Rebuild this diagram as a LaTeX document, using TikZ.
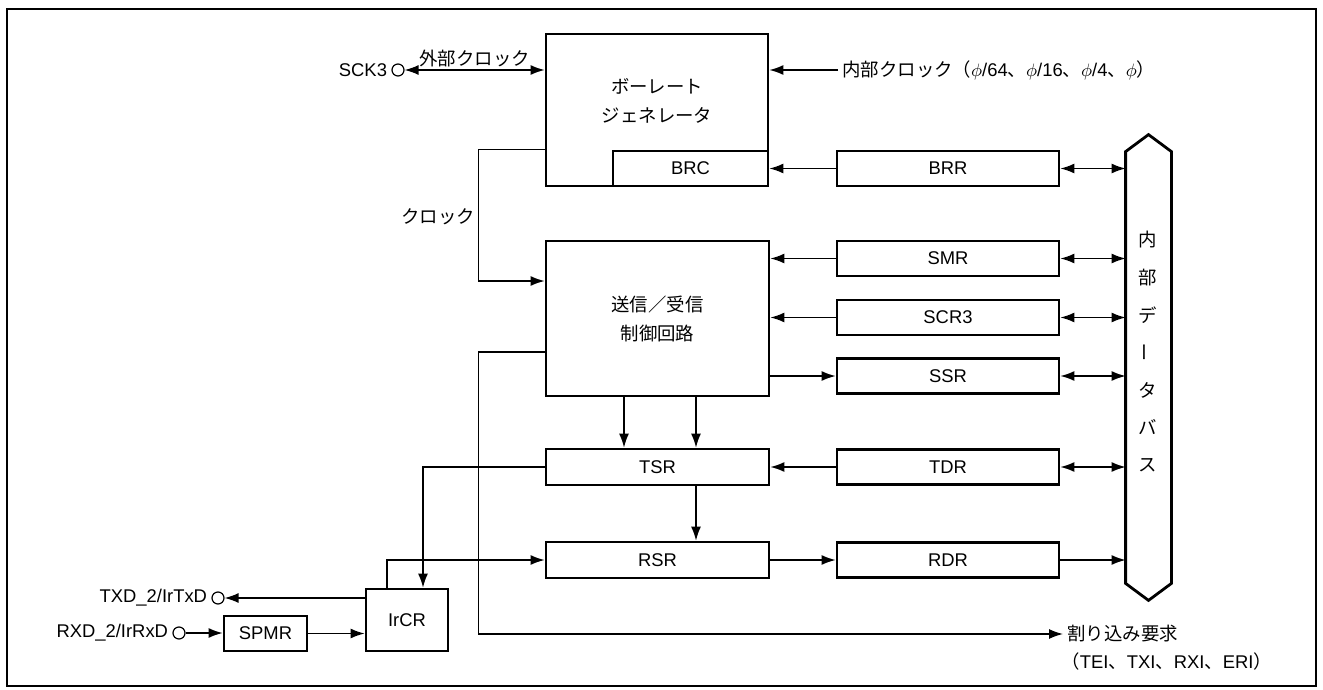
\documentclass[tikz,border=0pt]{standalone}
\usepackage{fontspec}
\setmainfont{Liberation Sans}
\newfontfamily\jp{Noto Sans CJK JP}
\usepackage{tikz}
\usetikzlibrary{arrows.meta, positioning}

\newcommand{\jpsize}{\jp\fontsize{9.2pt}{14.5pt}\selectfont}

\begin{document}
\begin{tikzpicture}[
    x=0.5pt, y=-0.5pt,
    font=\fontsize{9.2pt}{14.5pt}\selectfont,
    regblock/.style={rectangle, draw, line width=1.4pt, minimum width=111pt, minimum height=17.5pt, inner sep=0pt},
    bigblock/.style={rectangle, draw, line width=1.4pt, minimum width=111.5pt, minimum height=77.5pt, inner sep=0pt, align=center},
    jptext/.style={font=\jpsize, align=center},
    pinlabel/.style={inner sep=1pt},
    pin/.style={circle, draw, line width=0.6pt, minimum size=6pt, inner sep=0pt},
    arrow/.style={-{Latex[length=7pt, width=5pt]}, line width=0.7pt},
    darrow/.style={{Latex[length=7pt, width=5pt]}-{Latex[length=7pt, width=5pt]}, line width=0.7pt}
]
\useasboundingbox (0,0) rectangle (1323,690);

% Outer frame
\draw[line width=1.3pt] (7,9) rectangle (1316,686);

% Baud rate generator with BRC
\node[bigblock, minimum width=111pt, minimum height=76pt] (brg) at (657,110) {};
\node[jptext] (brgtxt) at (657,101) {ボーレート\\ジェネレータ};
\node[regblock, minimum width=77.5pt, anchor=south east] (brc) at (brg.south east) {BRC};

% Transmit/receive control circuit and shift registers
\node[bigblock, font=\jpsize] (ctrl) at (657.5,318.5) {送信／受信\\制御回路};
\node[regblock, minimum width=111.5pt, minimum height=18pt] (tsr) at (657.5,467) {TSR};
\node[regblock, minimum width=111.5pt, minimum height=18pt] (rsr) at (657.5,560) {RSR};

% Register column
\node[regblock] (brr)  at (948,168.5) {BRR};
\node[regblock] (smr)  at (948,258.5) {SMR};
\node[regblock] (scr)  at (948,317.5) {SCR3};
\node[regblock] (ssr)  at (948,376)   {SSR};
\node[regblock] (tdr)  at (948,467)   {TDR};
\node[regblock] (rdr)  at (948,560)   {RDR};

% IrDA part
\node[regblock, minimum width=41pt, minimum height=31pt] (ircr) at (407,620) {IrCR};
\node[regblock, minimum width=41.5pt] (spmr) at (265.5,633.5) {SPMR};

% Internal data bus
\node[minimum width=22.5pt, minimum height=215.5pt, inner sep=0pt] (bus) at (1148.5,367.5) {};
\draw[line width=1.4pt] (bus.north west) -- ([yshift=8.5pt]bus.north) -- (bus.north east)
    -- (bus.south east) -- ([yshift=-8.5pt]bus.south) -- (bus.south west) -- cycle;
\foreach \ch/\rot [count=\i from 0] in {内/0,部/0,デ/0,ー/90,タ/0,バ/0,ス/0}
    \node[jptext, rotate=\rot] (bus\i) at (1148,{240+37.5*\i}) {\ch};

% Pins
\node[pin] (sck) at (398,70) {};
\node[pinlabel, left=1pt of sck] (scklbl) {SCK3};
\node[pin] (txd) at (218,598) {};
\node[pinlabel, left=1pt of txd] (txdlbl) {TXD\_2/IrTxD};
\node[pin] (rxd) at (179,633) {};
\node[pinlabel, left=1pt of rxd] (rxdlbl) {RXD\_2/IrRxD};

% Clock inputs
\draw[darrow] (sck.east) -- node[jptext, above, inner sep=1pt] (extclk) {外部クロック} (sck.east -| brg.west);
\node[anchor=west, inner sep=2pt] (intclk) at (838,70)
    {{\jp 内部クロック（}$\phi$/64{\jp 、}$\phi$/16{\jp 、}$\phi$/4{\jp 、}$\phi${\jp ）}};
\draw[arrow] (intclk.west) -- (intclk.west -| brg.east);
\draw[arrow] (brr.west) -- (brr.west -| brc.east);
\draw[arrow] (brc.north -| brg.west) -- ++(-33pt,0) |- ([yshift=18.75pt]ctrl.west);
\node[jptext, anchor=east] (clklbl) at (482,217) {クロック};

% Control registers
\draw[arrow] (smr.west) -- (smr.west -| ctrl.east);
\draw[arrow] (scr.west) -- (scr.west -| ctrl.east);
\draw[arrow] (ssr.west -| ctrl.east) -- (ssr.west);
\draw[arrow] ([xshift=-16.75pt]ctrl.south) -- ([xshift=-16.75pt]tsr.north);
\draw[arrow] ([xshift=19.25pt]ctrl.south) -- ([xshift=19.25pt]tsr.north);

% Data path
\draw[arrow] (tdr.west) -- (tdr.west -| tsr.east);
\draw[arrow] ([xshift=19.25pt]tsr.south) -- ([xshift=19.25pt]rsr.north);
\draw[arrow] (rsr.east) -- (rsr.east -| rdr.west);
\draw[arrow] (rdr.east) -- (rdr.east -| bus.west);
\foreach \r in {brr,smr,scr,ssr,tdr}
    \draw[darrow] (\r.east) -- (\r.east -| bus.west);

% IrDA connections
\draw[arrow] (tsr.west) -| ([xshift=8pt]ircr.north);
\draw[arrow] ([xshift=-10pt]ircr.north) |- (rsr.west);
\draw[arrow] ([yshift=11pt]ircr.west) -- (txd.east);
\draw[arrow] (rxd.east) -- (rxd.east -| spmr.west);
\draw[arrow] (spmr.east) -- (spmr.east -| ircr.west);

% Interrupt requests
\node[jptext, anchor=west, inner sep=2pt] (irq) at (1063,634) {割り込み要求};
\node[anchor=west, inner sep=2pt] (irqlist) at (1057,662)
    {{\jp （}TEI{\jp 、}TXI{\jp 、}RXI{\jp 、}ERI{\jp ）}};
\draw[arrow] ([yshift=-16.75pt]ctrl.west) -- ++(-33pt,0) |- (irq.west);

\end{tikzpicture}
\end{document}
